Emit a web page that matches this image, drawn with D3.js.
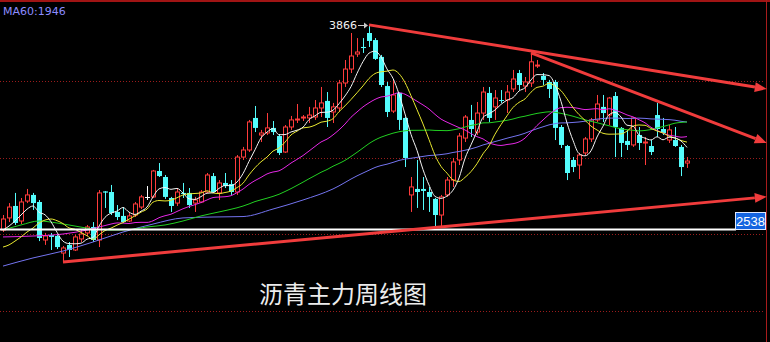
<!DOCTYPE html>
<html lang="zh">
<head>
<meta charset="utf-8">
<title>沥青主力周线图</title>
<script src="https://cdn.jsdelivr.net/npm/d3@7"></script>
<style>
  body { margin: 0; background: #000; }
  svg { display: block; }
</style>
</head>
<body>
<svg width="770" height="342"></svg>
<script>
// weekly candles
var opens  = [2528,2607,2685,2587,2717,2757,2711,2463,2496,2489,2378,2431,2398,2470,2509,2548,2463,2780,2776,2646,
              2620,2587,2626,2678,2746,2744,2913,2874,2737,2704,2770,2770,2704,2711,2776,2880,2770,2835,2828,2776,
              3004,3050,3259,3148,3161,3194,3141,3037,3200,3246,3259,3259,3265,3324,3370,3298,3324,3487,3578,3676,
              3722,3813,3767,3657,3467,3304,3422,3259,2757,2796,2796,2776,2731,2626,2757,2854,2985,3128,3246,3167,
              3291,3422,3331,3376,3376,3448,3552,3467,3487,3598,3533,3494,3494,3200,3076,2985,2952,3031,3122,3246,
              3331,3278,3402,3194,3109,3083,3148,3096,3076,3278,3187,3115,3115,3070,2965];
var highs  = [2626,2704,2770,2737,2796,2770,2724,2509,2509,2496,2424,2450,2496,2528,2561,2580,2789,2782,2822,2691,
              2678,2639,2711,2757,2815,2920,2965,2887,2744,2802,2835,2802,2744,2789,2900,2900,2854,2900,2854,3017,
              3070,3246,3337,3181,3291,3239,3154,3213,3272,3350,3278,3331,3376,3461,3428,3357,3507,3637,3813,3780,
              3780,3866,3780,3670,3494,3507,3428,3265,2874,2985,2874,2809,2737,2757,2874,2998,3161,3278,3344,3363,
              3461,3461,3441,3441,3474,3572,3572,3526,3683,3637,3552,3507,3507,3213,3083,3004,3031,3135,3259,3409,
              3409,3396,3428,3200,3181,3265,3200,3135,3115,3357,3259,3213,3200,3083,3004];
var lows   = [2515,2580,2561,2567,2704,2659,2456,2431,2398,2404,2320,2352,2391,2450,2489,2450,2417,2672,2626,2593,
              2574,2580,2613,2665,2724,2737,2874,2731,2646,2685,2737,2672,2646,2704,2770,2770,2724,2802,2757,2757,
              2985,3037,3167,3102,3148,3148,3017,3031,3181,3226,3239,3226,3246,3265,3200,3226,3298,3461,3552,3657,
              3683,3722,3637,3461,3265,3291,3181,2939,2646,2672,2659,2646,2548,2548,2744,2809,2952,3102,3135,3148,
              3246,3233,3246,3357,3291,3428,3441,3428,3461,3585,3474,3389,3115,3063,2854,2906,2861,3017,3102,3233,
              3233,3213,3004,3004,3050,3070,3050,2952,3017,3135,3148,3096,3070,2880,2933];
var closes = [2600,2678,2574,2711,2757,2704,2476,2489,2483,2417,2411,2398,2483,2502,2548,2463,2770,2772,2639,2613,
              2580,2620,2698,2744,2746,2913,2880,2744,2685,2776,2763,2691,2724,2776,2887,2776,2835,2815,2776,3004,
              3050,3233,3194,3161,3194,3167,3031,3200,3246,3252,3265,3278,3324,3357,3259,3331,3487,3578,3663,3689,
              3715,3761,3644,3474,3298,3409,3246,2998,2809,2776,2783,2744,2626,2744,2854,2972,3141,3265,3187,3291,
              3428,3259,3389,3370,3428,3513,3474,3494,3625,3604,3507,3448,3194,3083,2900,2939,3017,3122,3246,3350,
              3291,3389,3200,3096,3083,3259,3096,3102,3037,3187,3161,3181,3076,2939,2978];

// moving-average values before each window is full
var ma5Lead  = [2528,2554,2587,2626];
var ma10Lead = [2417,2431,2456,2483,2515,2541,2574,2593,2600];
var ma20LeadIdx = [0,5,10,14,18];
var ma20Lead    = [2483,2489,2502,2528,2567];
var ma40LeadIdx = [0,3,6,9,12,15,18,21,24,27,30,33,36];
var ma40Lead    = [2528,2561,2587,2574,2554,2535,2528,2531,2548,2561,2587,2620,2646];
var ma60LeadIdx = [0,5,10,15,20,25,30,35,40,45,50,55];
var ma60Lead    = [2293,2346,2391,2450,2515,2567,2607,2613,2616,2665,2724,2796];

var gridPrices = [2000, 2500, 3000, 3500];
var levelPrice = 2538;
var highMark = { idx: 61, price: 3866 };
// trend lines: [index, price] start and end (end carries an arrow)
var trendLines = [
  [[10, 2320], [127.3, 2745]],
  [[61, 3866], [127.3, 3448]],
  [[88, 3683], [127.3, 3096]]
];
var title = "沥青主力周线图";
var maLabel = "MA60:1946";

var svg = d3.select("svg");
var W = 770, H = 342;

var x = d3.scaleLinear().domain([0, 114]).range([3, 687]);
var y = d3.scaleLinear().domain([2000, 3500]).range([311, 81]);

svg.append("rect").attr("width", W).attr("height", H).attr("fill", "#000");

// grid
svg.selectAll(".grid").data(gridPrices).enter().append("line")
  .attr("x1", 0).attr("x2", 765)
  .attr("y1", function (d) { return Math.round(y(d)) + 0.5; })
  .attr("y2", function (d) { return Math.round(y(d)) + 0.5; })
  .attr("stroke", "#9a1c1c").attr("stroke-dasharray", "1,2");

// frame
svg.append("line").attr("x1", 0).attr("x2", W).attr("y1", 1).attr("y2", 1)
  .attr("stroke", "#a01414").attr("stroke-width", 2);
svg.append("line").attr("x1", 766.5).attr("x2", 766.5).attr("y1", 0).attr("y2", H)
  .attr("stroke", "#a81c1c");

// candles
var data = closes.map(function (c, i) {
  return { i: i, o: opens[i], h: highs[i], l: lows[i], c: c };
});
function candleColor(d) {
  if (d.c > d.o) return "#ff3c3c";
  if (d.c < d.o) return "#54fcfc";
  return "#ffffff";
}
var candle = svg.append("g").selectAll("g").data(data).enter().append("g");
candle.append("line")
  .attr("x1", function (d) { return x(d.i) + 0.5; })
  .attr("x2", function (d) { return x(d.i) + 0.5; })
  .attr("y1", function (d) { return y(d.h); })
  .attr("y2", function (d) { return y(d.l); })
  .attr("stroke", candleColor);
candle.filter(function (d) { return d.c > d.o; }).append("rect")
  .attr("x", function (d) { return x(d.i) - 1.5; })
  .attr("width", 4)
  .attr("y", function (d) { return y(d.c); })
  .attr("height", function (d) { return Math.max(1, y(d.o) - y(d.c)); })
  .attr("fill", "#000").attr("stroke", "#ff3c3c");
candle.filter(function (d) { return d.c < d.o; }).append("rect")
  .attr("x", function (d) { return x(d.i) - 2; })
  .attr("width", 5)
  .attr("y", function (d) { return y(d.o); })
  .attr("height", function (d) { return Math.max(1, y(d.c) - y(d.o)); })
  .attr("fill", "#54fcfc");
candle.filter(function (d) { return d.c === d.o; }).append("line")
  .attr("x1", function (d) { return x(d.i) - 2; })
  .attr("x2", function (d) { return x(d.i) + 3; })
  .attr("y1", function (d) { return Math.round(y(d.c)) + 0.5; })
  .attr("y2", function (d) { return Math.round(y(d.c)) + 0.5; })
  .attr("stroke", "#fff");

// moving averages
function movingAvg(n, leadIdx, lead) {
  var pts = leadIdx.map(function (k, j) { return [k, lead[j]]; });
  for (var i = n - 1; i < closes.length; i++) {
    pts.push([i, d3.mean(closes.slice(i - n + 1, i + 1))]);
  }
  return pts;
}
var maSeries = [
  { pts: movingAvg(60, ma60LeadIdx, ma60Lead), color: "#7474f0" },
  { pts: movingAvg(40, ma40LeadIdx, ma40Lead), color: "#22d022" },
  { pts: movingAvg(20, ma20LeadIdx, ma20Lead), color: "#e628e6" },
  { pts: movingAvg(10, d3.range(ma10Lead.length), ma10Lead), color: "#e8e830" },
  { pts: movingAvg(5, d3.range(ma5Lead.length), ma5Lead), color: "#f4f4f4" }
];
var line = d3.line()
  .x(function (p) { return x(p[0]); })
  .y(function (p) { return y(p[1]); })
  .curve(d3.curveMonotoneX);
svg.selectAll(".ma").data(maSeries).enter().append("path")
  .attr("d", function (s) { return line(s.pts); })
  .attr("fill", "none")
  .attr("stroke", function (s) { return s.color; })
  .attr("stroke-width", 1);

// price level line with label
var ly = Math.round(y(levelPrice)) + 0.5;
svg.append("line").attr("x1", 0).attr("x2", 736).attr("y1", ly).attr("y2", ly)
  .attr("stroke", "#fff").attr("stroke-width", 2);
svg.append("rect").attr("x", 735.5).attr("y", ly - 17).attr("width", 30).attr("height", 17)
  .attr("fill", "#1464e0").attr("stroke", "#dfe8ff").attr("stroke-width", 1);
svg.append("text").attr("x", 750.5).attr("y", ly - 4)
  .attr("text-anchor", "middle")
  .attr("font-family", "Liberation Sans, Arial, sans-serif").attr("font-size", 13)
  .attr("fill", "#fff").text(levelPrice);

// trend lines with arrowheads
var red = "#f03c3c";
trendLines.forEach(function (t) {
  var x1 = x(t[0][0]), y1 = y(t[0][1]), x2 = x(t[1][0]), y2 = y(t[1][1]);
  var ang = Math.atan2(y2 - y1, x2 - x1);
  var len = 12, hw = 5;
  var bx = x2 - len * Math.cos(ang), by = y2 - len * Math.sin(ang);
  svg.append("line").attr("x1", x1).attr("y1", y1).attr("x2", bx).attr("y2", by)
    .attr("stroke", red).attr("stroke-width", 3);
  svg.append("path")
    .attr("d", "M" + x2 + "," + y2 +
      "L" + (bx + hw * Math.sin(ang)) + "," + (by - hw * Math.cos(ang)) +
      "L" + (bx - hw * Math.sin(ang)) + "," + (by + hw * Math.cos(ang)) + "Z")
    .attr("fill", red);
});

// high marker
var hx = x(highMark.idx), hy = y(highMark.price);
svg.append("line").attr("x1", hx - 11).attr("x2", hx - 2).attr("y1", Math.round(hy) + 0.5).attr("y2", Math.round(hy) + 0.5)
  .attr("stroke", "#c8c8c8");
svg.append("path")
  .attr("d", "M" + (hx - 1) + "," + (Math.round(hy) + 0.5) + "l-4,-3v6z")
  .attr("fill", "#c8c8c8");
svg.append("text").attr("x", hx - 12).attr("y", hy + 4)
  .attr("text-anchor", "end")
  .attr("font-family", "DejaVu Sans, sans-serif").attr("font-size", 11)
  .attr("fill", "#f0f0f0").text(highMark.price);

// labels
svg.append("text").attr("x", 3).attr("y", 15)
  .attr("font-family", "DejaVu Sans, sans-serif").attr("font-size", 11)
  .attr("fill", "#8c8cff").text(maLabel);
svg.append("text").attr("x", 259).attr("y", 303)
  .attr("font-family", "Noto Sans CJK SC, sans-serif").attr("font-size", 24)
  .attr("fill", "#ececec").text(title);
</script>
</body>
</html>
